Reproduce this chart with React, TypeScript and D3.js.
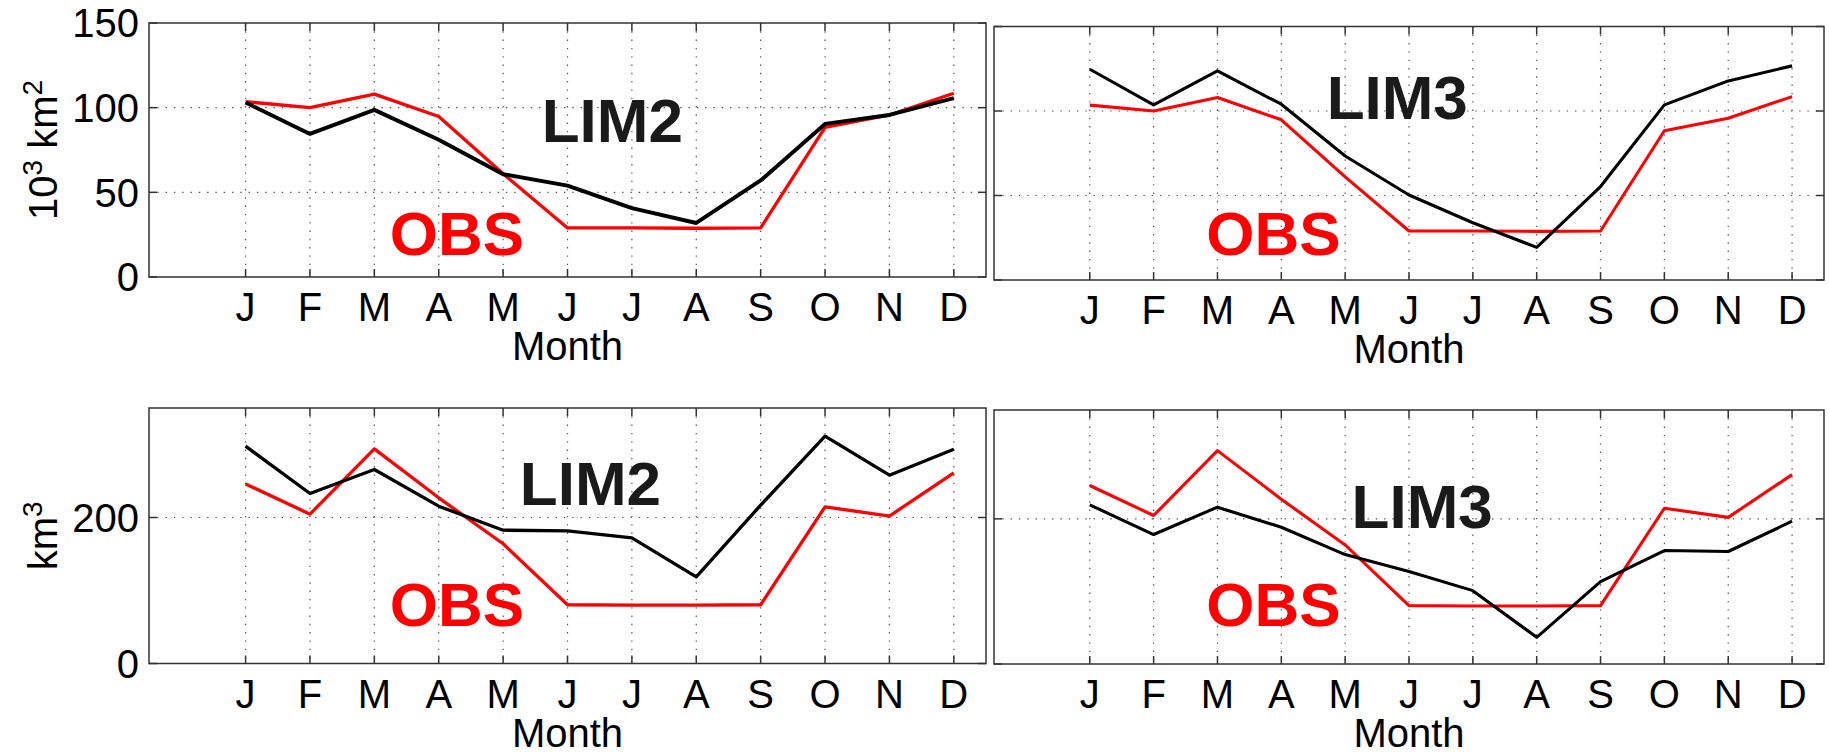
import { useEffect } from 'react';
import * as d3 from 'd3';

const WIDTH = 1829;
const HEIGHT = 752;
const FONT = '"Liberation Sans", Arial, Helvetica, sans-serif';

// Month tick labels (x positions 1..12, axis runs from -0.5 to 12.5)
const MONTHS = ['J', 'F', 'M', 'A', 'M', 'J', 'J', 'A', 'S', 'O', 'N', 'D'];

// Sea ice area, 10^3 km^2
const OBS_AREA = [103.5, 100, 108, 94.8, 61, 29, 29, 28.8, 29, 88.3, 95.7, 108.5];
const LIM2_AREA = [103, 84.5, 98.7, 81, 60.7, 54, 40.7, 31.9, 57, 90.4, 95.7, 105.6];
const LIM3_AREA = [124.7, 103.6, 123.7, 104, 73.4, 50.3, 33.9, 19.3, 55.3, 103.6, 117.8, 126.7];

// Sea ice volume, km^3
const OBS_VOLUME = [246, 204.6, 294, 227, 164, 80.5, 80, 80, 80.5, 214.6, 202, 261];
const LIM2_VOLUME = [297.7, 232.9, 265.8, 215.5, 182.6, 181.7, 172.1, 118.7, 216.9, 311.4, 258, 293.6];
const LIM3_VOLUME = [219.3, 178.4, 216.1, 188.5, 150.8, 127.4, 101.1, 36.8, 113.6, 156.3, 155, 196.8];

const AREA_TICKS = [0, 50, 100, 150];
const VOLUME_TICKS = [0, 200];

interface Panel {
  key: string;
  x0: number;
  x1: number;
  y0: number;
  y1: number;
  yMax: number;
  ticks: number[];
  showYLabels: boolean;
  yLabel: 'area' | 'volume' | null;
  modelName: string;
  model: number[];
  obs: number[];
  // label anchors in data coordinates [month, value]
  modelAt: [number, number];
  obsAt: [number, number];
  modelWidth: number;
  obsWidth: number;
}

const PANELS: Panel[] = [
  {
    key: 'tl', x0: 149, x1: 986, y0: 23, y1: 277, yMax: 150, ticks: AREA_TICKS,
    showYLabels: true, yLabel: 'area', modelName: 'LIM2', model: LIM2_AREA, obs: OBS_AREA,
    modelAt: [5.6, 79.9], obsAt: [3.24, 13], modelWidth: 3.9, obsWidth: 3.3,
  },
  {
    key: 'tr', x0: 994, x1: 1824, y0: 26.5, y1: 280, yMax: 150, ticks: AREA_TICKS,
    showYLabels: false, yLabel: null, modelName: 'LIM3', model: LIM3_AREA, obs: OBS_AREA,
    modelAt: [4.71, 95.1], obsAt: [2.825, 14.8], modelWidth: 3.1, obsWidth: 3.1,
  },
  {
    key: 'bl', x0: 149, x1: 986, y0: 408, y1: 663.5, yMax: 350, ticks: VOLUME_TICKS,
    showYLabels: true, yLabel: 'volume', modelName: 'LIM2', model: LIM2_VOLUME, obs: OBS_VOLUME,
    modelAt: [5.26, 217], obsAt: [3.24, 51.4], modelWidth: 3.3, obsWidth: 3.3,
  },
  {
    key: 'br', x0: 994, x1: 1824, y0: 410, y1: 664, yMax: 350, ticks: VOLUME_TICKS,
    showYLabels: false, yLabel: null, modelName: 'LIM3', model: LIM3_VOLUME, obs: OBS_VOLUME,
    modelAt: [5.1, 187.8], obsAt: [2.825, 52.4], modelWidth: 3.1, obsWidth: 3.1,
  },
];

function PanelView({ p }: { p: Panel }) {
  const x = d3.scaleLinear().domain([-0.5, 12.5]).range([p.x0, p.x1]);
  const y = d3.scaleLinear().domain([0, p.yMax]).range([p.y1, p.y0]);
  const line = d3
    .line<number>()
    .x((_, i) => x(i + 1))
    .y((d) => y(d));
  const tickLen = 8;
  const midY = (p.y0 + p.y1) / 2;
  const dots = '1.4 6.9';

  return (
    <g>
      {/* dotted grid */}
      {MONTHS.map((_, i) => (
        <line key={'gx' + i} x1={x(i + 1)} x2={x(i + 1)} y1={p.y0} y2={p.y1}
          stroke="#555" strokeWidth={1.2} strokeDasharray={dots} />
      ))}
      {p.ticks.filter((t) => t > 0 && t < p.yMax).map((t) => (
        <line key={'gy' + t} x1={p.x0} x2={p.x1} y1={y(t)} y2={y(t)}
          stroke="#555" strokeWidth={1.2} strokeDasharray={dots} />
      ))}

      {/* series: obs first, model on top */}
      <path d={line(p.obs) ?? ''} fill="none" stroke="#ff0000" strokeWidth={p.obsWidth}
        strokeLinejoin="round" />
      <path d={line(p.model) ?? ''} fill="none" stroke="#000" strokeWidth={p.modelWidth}
        strokeLinejoin="round" />

      {/* box */}
      <rect x={p.x0} y={p.y0} width={p.x1 - p.x0} height={p.y1 - p.y0}
        fill="none" stroke="#333" strokeWidth={1.5} />

      {/* inward ticks on all sides */}
      {MONTHS.map((_, i) => (
        <g key={'tx' + i}>
          <line x1={x(i + 1)} x2={x(i + 1)} y1={p.y1} y2={p.y1 - tickLen} stroke="#333" strokeWidth={1.5} />
          <line x1={x(i + 1)} x2={x(i + 1)} y1={p.y0} y2={p.y0 + tickLen} stroke="#333" strokeWidth={1.5} />
        </g>
      ))}
      {p.ticks.map((t) => (
        <g key={'ty' + t}>
          <line x1={p.x0} x2={p.x0 + tickLen} y1={y(t)} y2={y(t)} stroke="#333" strokeWidth={1.5} />
          <line x1={p.x1} x2={p.x1 - tickLen} y1={y(t)} y2={y(t)} stroke="#333" strokeWidth={1.5} />
        </g>
      ))}

      {/* tick labels */}
      {MONTHS.map((m, i) => (
        <text key={'lx' + i} x={x(i + 1)} y={p.y1 + 44} textAnchor="middle"
          fontSize={40} fontFamily={FONT} fill="#000">{m}</text>
      ))}
      {p.showYLabels && p.ticks.map((t) => (
        <text key={'ly' + t} x={p.x0 - 10} y={y(t)} dy="0.36em" textAnchor="end"
          fontSize={40} fontFamily={FONT} fill="#000">{t}</text>
      ))}
      <text x={(p.x0 + p.x1) / 2} y={p.y1 + 83} textAnchor="middle"
        fontSize={40} fontFamily={FONT} fill="#000">Month</text>

      {/* y axis title */}
      {p.yLabel === 'area' && (
        <text transform={`translate(56.6,${midY}) rotate(-90)`} textAnchor="middle"
          fontSize={40} fontFamily={FONT} fill="#000">
          10<tspan dy={-15} fontSize={28}>3</tspan><tspan dy={15}> km</tspan>
          <tspan dy={-15} fontSize={28}>2</tspan>
        </text>
      )}
      {p.yLabel === 'volume' && (
        <text transform={`translate(56.6,${midY}) rotate(-90)`} textAnchor="middle"
          fontSize={40} fontFamily={FONT} fill="#000">
          km<tspan dy={-15} fontSize={28}>3</tspan>
        </text>
      )}

      {/* in-plot labels */}
      <text x={x(p.modelAt[0])} y={y(p.modelAt[1])} fontSize={62} fontWeight="bold"
        fontFamily={FONT} fill="#1a1a1a">{p.modelName}</text>
      <text x={x(p.obsAt[0])} y={y(p.obsAt[1])} fontSize={62} fontWeight="bold"
        fontFamily={FONT} fill="#ff0000">OBS</text>
    </g>
  );
}

export default function App() {
  useEffect(() => {
    document.body.style.margin = '0';
  }, []);

  return (
    <svg width={WIDTH} height={HEIGHT} viewBox={`0 0 ${WIDTH} ${HEIGHT}`}
      style={{ display: 'block', background: '#fff' }}>
      <rect x={0} y={0} width={WIDTH} height={HEIGHT} fill="#fff" />
      {PANELS.map((p) => (
        <PanelView key={p.key} p={p} />
      ))}
    </svg>
  );
}
